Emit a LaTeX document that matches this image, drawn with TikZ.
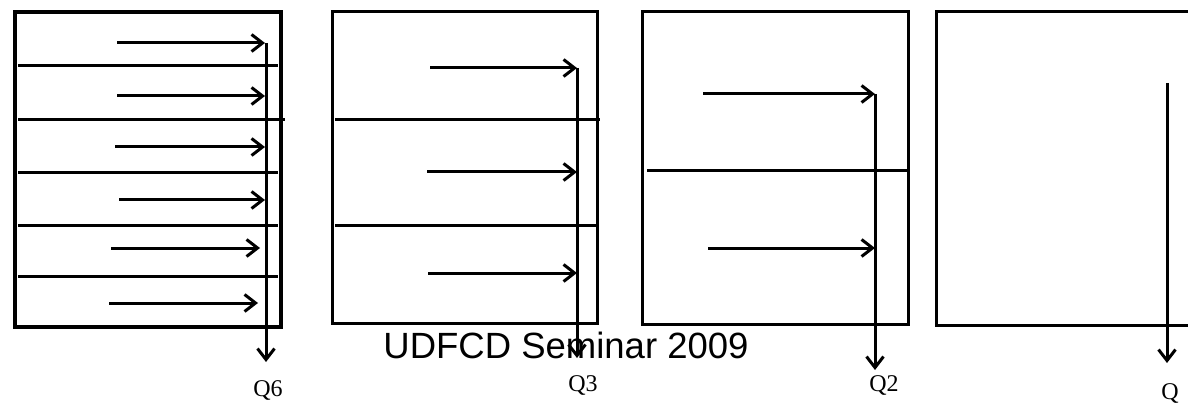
\documentclass[tikz,border=0pt]{standalone}
\usepackage{fontspec}
\setmainfont{Liberation Serif}
\newfontfamily\titlefont{Liberation Sans}
\usetikzlibrary{arrows.meta}

\begin{document}
\begin{tikzpicture}
  [x=1pt,y=-1pt,line width=3pt,
   flow/.style={-{Straight Barb[length=11pt,width=17pt]}},
   tag/.style={font=\fontsize{24}{24}\selectfont,inner sep=0pt}]
  \useasboundingbox (0,0) rectangle (1188,406);
  \clip (0,0) rectangle (1188,406);
  % panel 1: six layers
  \draw[line width=4pt] (15,12) rectangle (281,327);
  \foreach \y/\r in {66/278,120/285,173/278,225/278,276/278}
    \draw (18,\y) -- (\r,\y);
  \foreach \i/\y/\s/\e in {1/43/117/265,2/96/117/265,3/147/115/265,4/200/119/265,5/248/111/260,6/303/109/258}{
    \coordinate (p\i) at (\s,\y);
    \coordinate (r\i) at (\e,\y);
    \draw[flow] (p\i) -- (r\i);
  }
  \coordinate (sixtop) at (266,43);
  \coordinate (sixend) at (266,362);
  \node[tag] (q6) at (268,390) {Q6};
  \draw[flow] (sixtop) -- (sixend);
  % panel 2: three layers
  \draw (332,12) rectangle (597,323);
  \foreach \y/\r in {120/600,225/597}
    \draw (335,\y) -- (\r,\y);
  \foreach \i/\y/\s in {1/68/430,2/172/427,3/273/428}{
    \coordinate (m\i) at (\s,\y);
    \coordinate (n\i) at (577,\y);
    \draw[flow] (m\i) -- (n\i);
  }
  \coordinate (threetop) at (577,68);
  \coordinate (threeend) at (577,358);
  \node[tag] (q3) at (583,385) {Q3};
  \draw[flow] (threetop) -- (threeend);
  % panel 3: two layers
  \draw (642,12) rectangle (908,324);
  \draw (647,171) -- (908,171);
  \foreach \i/\y/\s in {1/94/703,2/248/708}{
    \coordinate (t\i) at (\s,\y);
    \coordinate (u\i) at (875,\y);
    \draw[flow] (t\i) -- (u\i);
  }
  \coordinate (twotop) at (875,94);
  \coordinate (twoend) at (875,370);
  \node[tag] (q2) at (884,385) {Q2};
  \draw[flow] (twotop) -- (twoend);
  % panel 4: one layer
  \draw (936,12) rectangle (1210,325);
  \coordinate (onetop) at (1167,83);
  \coordinate (oneend) at (1167,363);
  \node[tag] (q1) at (1170,393) {Q};
  \draw[flow] (onetop) -- (oneend);
  \node[font=\titlefont\fontsize{36.5}{40}\selectfont,anchor=base] (title) at (566,358) {UDFCD Seminar 2009};
\end{tikzpicture}
\end{document}
